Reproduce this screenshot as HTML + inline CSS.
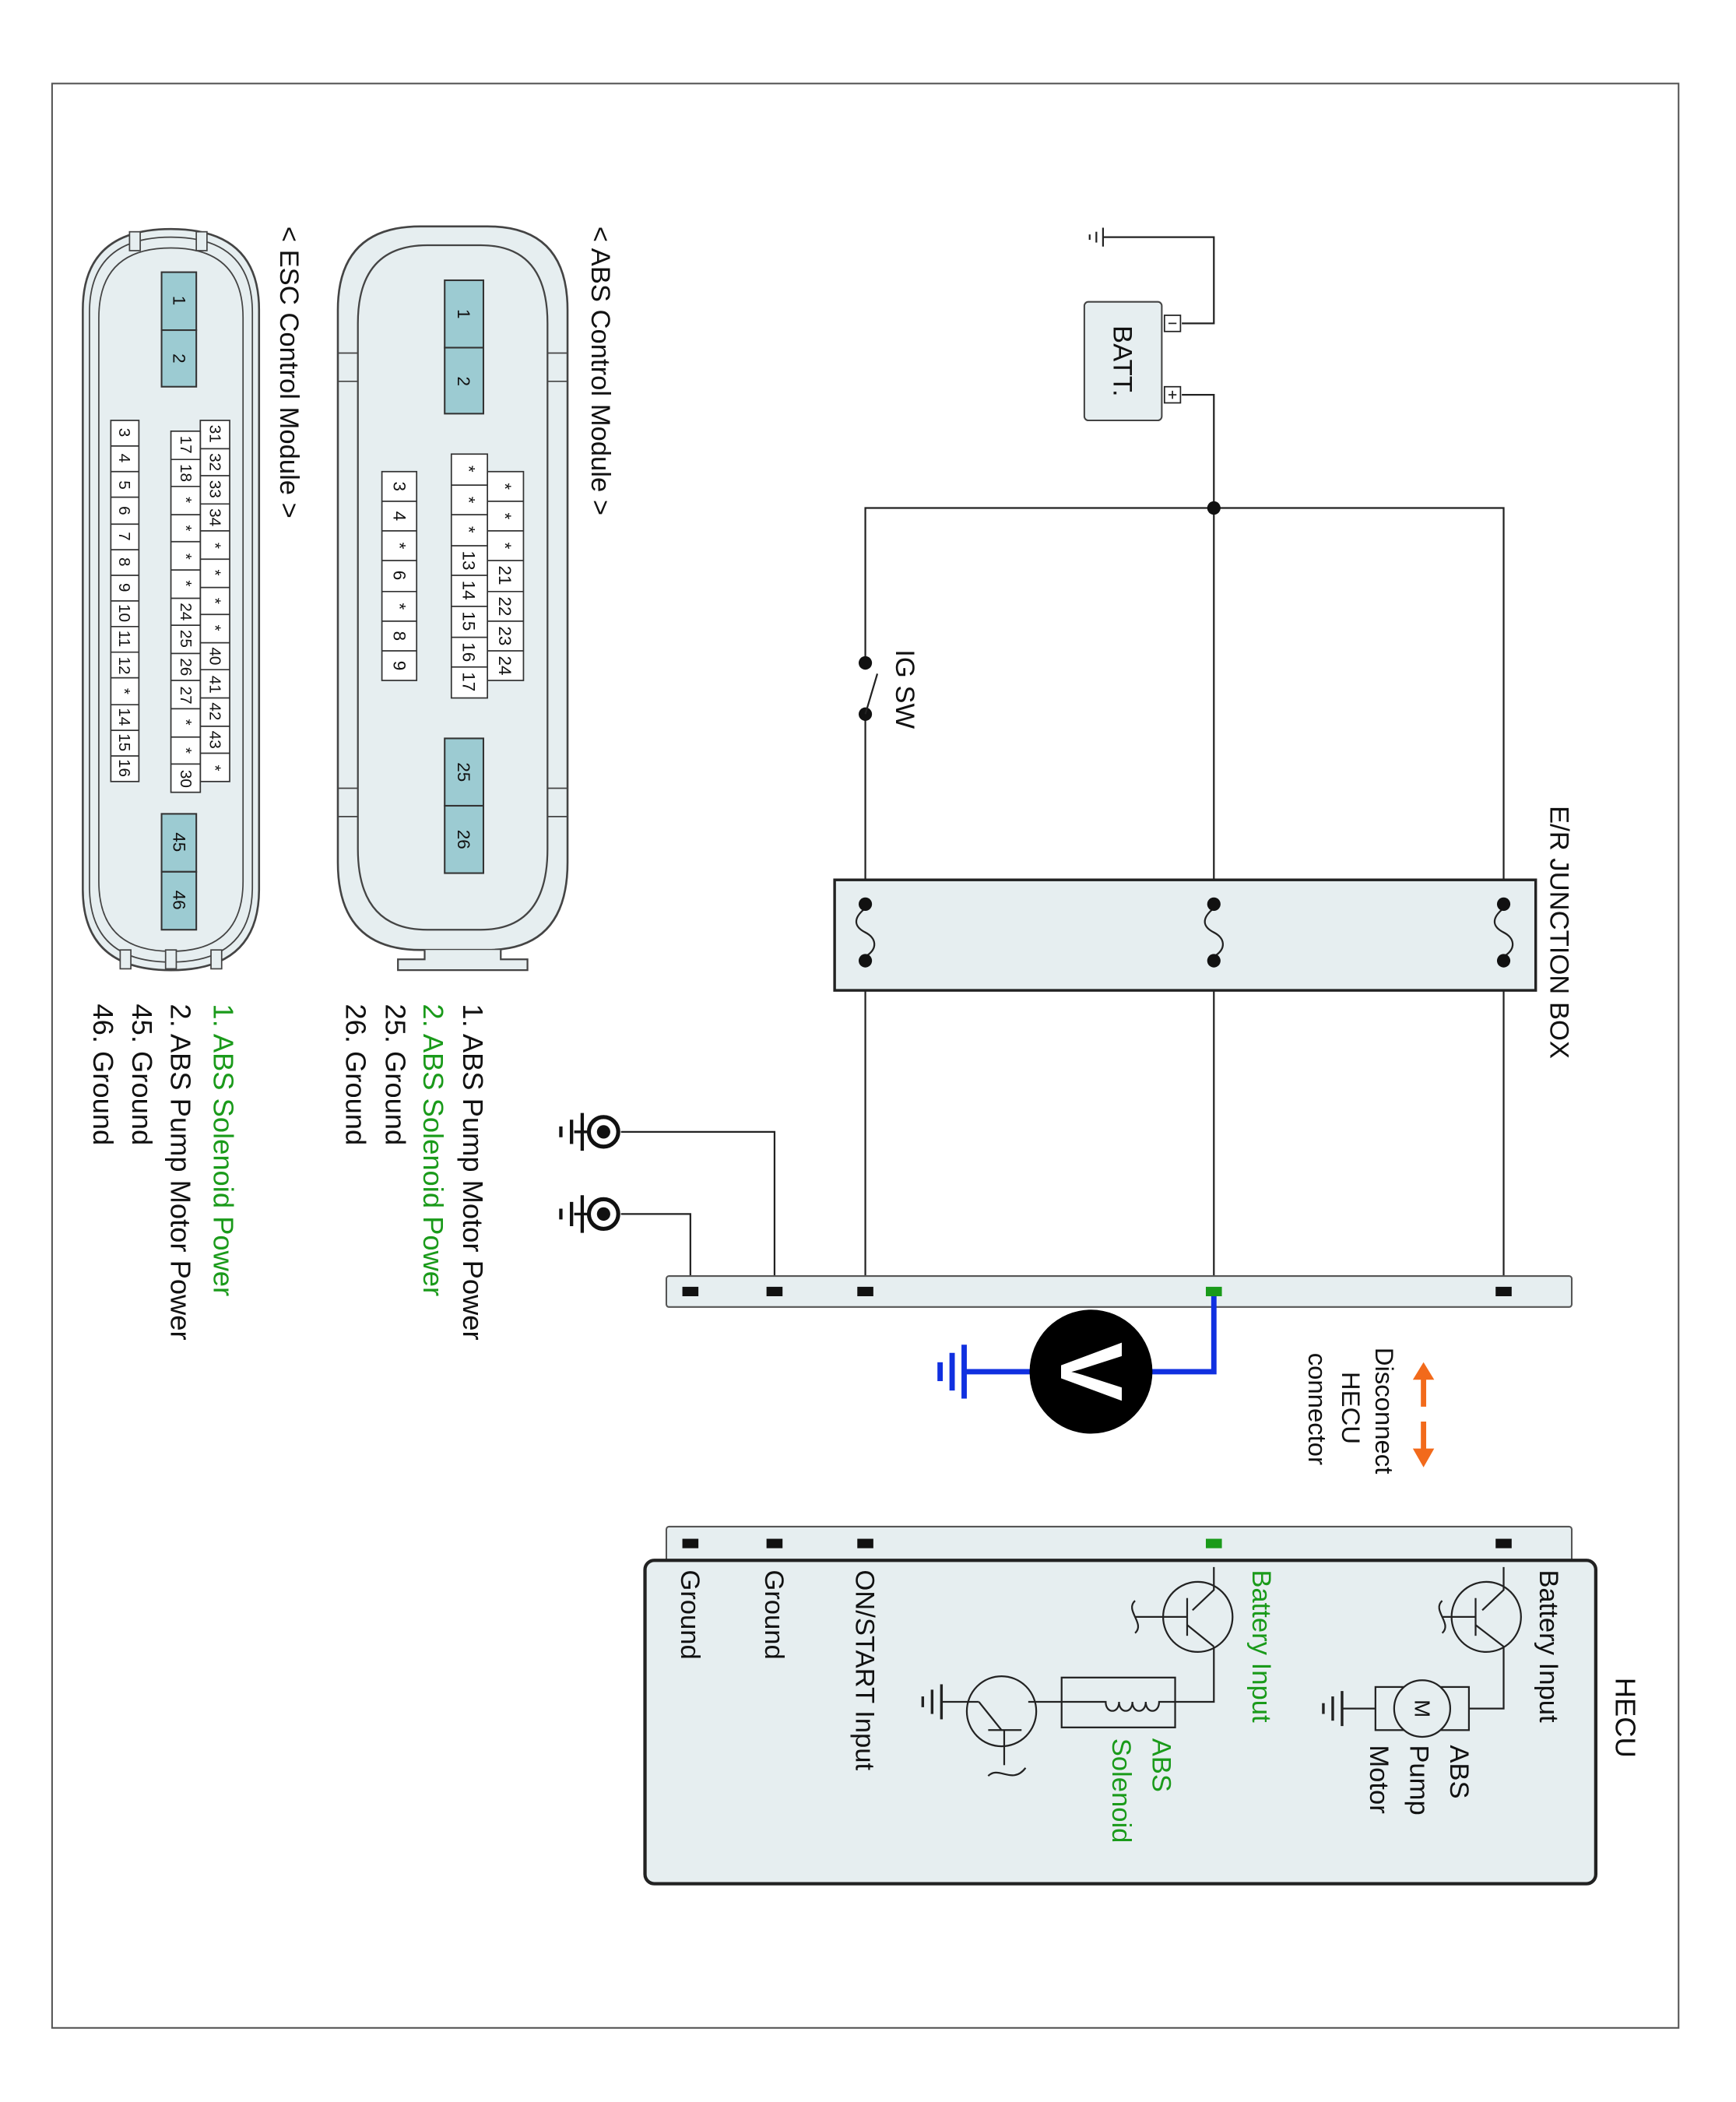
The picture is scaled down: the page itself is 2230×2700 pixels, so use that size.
<!DOCTYPE html>
<html><head><meta charset="utf-8"><style>
html,body{margin:0;padding:0;background:#fff}
svg{display:block}
text{font-family:"Liberation Sans",sans-serif}
</style></head><body>
<svg width="2230" height="2700" viewBox="0 0 1300 1560" preserveAspectRatio="none" xmlns="http://www.w3.org/2000/svg">
<rect x="0" y="0" width="1300" height="1560" fill="#fff"/>
<rect x="39" y="62" width="1218" height="1443" fill="none" stroke="#555" stroke-width="1.2"/>

<g stroke="#222" stroke-width="1.3" fill="none">
<polyline points="885,240 909,240 909,176 826,176"/>
<line x1="826" y1="169" x2="826" y2="183"/><line x1="821" y1="172" x2="821" y2="180"/><line x1="816" y1="174" x2="816" y2="178"/>
<polyline points="885,293 909,293 909,958"/>
<polyline points="648,958 648,377 1126,377 1126,958"/>
</g>
<rect x="812" y="224" width="58" height="88" rx="3" fill="#e6eef0" stroke="#444" stroke-width="1.2"/>
<text transform="translate(834,268) rotate(90)" text-anchor="middle" font-size="20" fill="#111">BATT.</text>
<rect x="872" y="234" width="12" height="12" fill="#fff" stroke="#222"/><line x1="875" y1="240" x2="881" y2="240" stroke="#222"/>
<rect x="872" y="287" width="12" height="12" fill="#fff" stroke="#222"/><line x1="875" y1="293" x2="881" y2="293" stroke="#222"/><line x1="878" y1="290" x2="878" y2="296" stroke="#222"/>
<circle cx="909" cy="377" r="5" fill="#111"/>

<rect x="644" y="493" width="8" height="36" fill="#fff"/>
<circle cx="648" cy="492" r="5" fill="#111"/><circle cx="648" cy="530" r="5" fill="#111"/>
<line x1="648" y1="530" x2="657" y2="500" stroke="#222" stroke-width="1.3"/>
<text transform="translate(671,482) rotate(90)" font-size="20" fill="#111">IG SW</text>

<rect x="625" y="653" width="525" height="82" fill="#e6eef0" stroke="#222" stroke-width="2"/>
<g stroke="#222" stroke-width="1.3" fill="none">
<path d="M648,674 C638,682 640,688 648,692 C656,696 658,704 648,710"/>
<path d="M909,674 C899,682 901,688 909,692 C917,696 919,704 909,710"/>
<path d="M1126,674 C1116,682 1118,688 1126,692 C1134,696 1136,704 1126,710"/>
</g>
<g fill="#111"><circle cx="648" cy="671" r="5"/><circle cx="648" cy="713" r="5"/><circle cx="909" cy="671" r="5"/><circle cx="909" cy="713" r="5"/><circle cx="1126" cy="671" r="5"/><circle cx="1126" cy="713" r="5"/></g>
<text transform="translate(1161,598) rotate(90)" font-size="20" fill="#111">E/R JUNCTION BOX</text>

<g stroke="#222" stroke-width="1.3" fill="none">
<polyline points="465,840 580,840 580,958"/>
<polyline points="465,901 517,901 517,958"/>
</g>
<g>
<circle cx="452" cy="840" r="11" fill="#fff" stroke="#111" stroke-width="3"/><circle cx="452" cy="840" r="5" fill="#111"/>
<line x1="441" y1="840" x2="430" y2="840" stroke="#111" stroke-width="2"/>
<line x1="436" y1="826" x2="436" y2="854" stroke="#111" stroke-width="2.5"/><line x1="428" y1="831" x2="428" y2="849" stroke="#111" stroke-width="2.5"/><line x1="420" y1="836" x2="420" y2="844" stroke="#111" stroke-width="2.5"/>
<circle cx="452" cy="901" r="11" fill="#fff" stroke="#111" stroke-width="3"/><circle cx="452" cy="901" r="5" fill="#111"/>
<line x1="441" y1="901" x2="430" y2="901" stroke="#111" stroke-width="2"/>
<line x1="436" y1="887" x2="436" y2="915" stroke="#111" stroke-width="2.5"/><line x1="428" y1="892" x2="428" y2="910" stroke="#111" stroke-width="2.5"/><line x1="420" y1="897" x2="420" y2="905" stroke="#111" stroke-width="2.5"/>
</g>

<rect x="499" y="947" width="678" height="23" rx="2" fill="#e6eef0" stroke="#555" stroke-width="1.2"/>
<g fill="#111"><rect x="511" y="955" width="12" height="7"/><rect x="574" y="955" width="12" height="7"/><rect x="642" y="955" width="12" height="7"/><rect x="1120" y="955" width="12" height="7"/></g>
<rect x="903" y="955" width="12" height="7" fill="#1a9a1a"/>

<polyline points="909,962 909,1018 860,1018" fill="none" stroke="#1030e0" stroke-width="4"/>
<line x1="774" y1="1018" x2="722" y2="1018" stroke="#1030e0" stroke-width="4"/>
<line x1="722" y1="998" x2="722" y2="1038" stroke="#1030e0" stroke-width="4"/><line x1="713" y1="1004" x2="713" y2="1032" stroke="#1030e0" stroke-width="4"/><line x1="704" y1="1011" x2="704" y2="1025" stroke="#1030e0" stroke-width="4"/>
<circle cx="817" cy="1018" r="46" fill="#000"/>
<text transform="translate(817,1018) rotate(90)" text-anchor="middle" dominant-baseline="central" font-size="66" font-weight="bold" fill="#fff">V</text>

<g fill="#f26a1b" stroke="#f26a1b">
<line x1="1066" y1="1022" x2="1066" y2="1044" stroke-width="4"/><polygon points="1058,1024 1074,1024 1066,1011" stroke="none"/>
<line x1="1066" y1="1055" x2="1066" y2="1077" stroke-width="4"/><polygon points="1058,1075 1074,1075 1066,1089" stroke="none"/>
</g>
<text transform="translate(1030,1000) rotate(90)" font-size="19" fill="#111"><tspan x="0" y="0">Disconnect</tspan><tspan x="18" y="25">HECU</tspan><tspan x="4" y="50">connector</tspan></text>

<rect x="499" y="1133" width="678" height="30" rx="2" fill="#e6eef0" stroke="#555" stroke-width="1.2"/>
<g fill="#111"><rect x="511" y="1142" width="12" height="7"/><rect x="574" y="1142" width="12" height="7"/><rect x="642" y="1142" width="12" height="7"/><rect x="1120" y="1142" width="12" height="7"/></g>
<rect x="903" y="1142" width="12" height="7" fill="#1a9a1a"/>
<rect x="483" y="1158" width="712" height="240" rx="7" fill="#e6eef0" stroke="#222" stroke-width="2.5"/>
<text transform="translate(1210,1245) rotate(90)" font-size="21" fill="#111">HECU</text>
<text transform="translate(1153,1165) rotate(90)" font-size="20" fill="#111">Battery Input</text>
<text transform="translate(938,1165) rotate(90)" font-size="20" fill="#1a9a1a">Battery Input</text>
<text transform="translate(641,1165) rotate(90)" font-size="20" fill="#111">ON/START Input</text>
<text transform="translate(573,1165) rotate(90)" font-size="20" fill="#111">Ground</text>
<text transform="translate(510,1165) rotate(90)" font-size="20" fill="#111">Ground</text>
<text transform="translate(1086,1295) rotate(90)" font-size="20" fill="#111">ABS</text>
<text transform="translate(1056,1295) rotate(90)" font-size="20" fill="#111">Pump</text>
<text transform="translate(1026,1295) rotate(90)" font-size="20" fill="#111">Motor</text>
<text transform="translate(863,1290) rotate(90)" font-size="20" fill="#1a9a1a">ABS</text>
<text transform="translate(833,1290) rotate(90)" font-size="20" fill="#1a9a1a">Solenoid</text>

<g stroke="#222" stroke-width="1.3" fill="none">
<polyline points="1126,1163 1126,1180 1110,1195"/>
<circle cx="1113" cy="1200" r="26"/>
<line x1="1105" y1="1186" x2="1105" y2="1214"/>
<line x1="1105" y1="1200" x2="1080" y2="1200"/>
<path d="M1080,1188 C1072,1195 1088,1205 1080,1212"/>
<line x1="1105" y1="1206" x2="1126" y2="1222"/>
<polyline points="1126,1222 1126,1268 1100,1268"/>
<rect x="1030" y="1252" width="70" height="32"/>
<line x1="1030" y1="1268" x2="1005" y2="1268"/>
<line x1="1005" y1="1255" x2="1005" y2="1281" stroke-width="2"/><line x1="998" y1="1259" x2="998" y2="1277" stroke-width="2"/><line x1="991" y1="1264" x2="991" y2="1272" stroke-width="2"/>
<polyline points="909,1163 909,1180 893,1195"/>
<circle cx="897" cy="1200" r="26"/>
<line x1="889" y1="1186" x2="889" y2="1214"/>
<line x1="889" y1="1200" x2="850" y2="1200"/>
<path d="M850,1188 C842,1195 858,1205 850,1212"/>
<line x1="889" y1="1206" x2="909" y2="1222"/>
<polyline points="909,1222 909,1263 880,1263"/>
<rect x="795" y="1245" width="85" height="37"/>
<path d="M880,1263 L868,1263 C868,1272 858,1272 858,1263 C858,1272 848,1272 848,1263 C848,1272 838,1272 838,1263 C838,1272 828,1272 828,1263 L795,1263"/>
<line x1="795" y1="1263" x2="770" y2="1263"/>
<circle cx="750" cy="1270" r="26"/>
<line x1="740" y1="1284" x2="765" y2="1284"/>
<line x1="752" y1="1284" x2="752" y2="1310"/>
<path d="M740,1318 C748,1310 758,1325 768,1312"/>
<line x1="750" y1="1284" x2="733" y2="1263"/>
<line x1="733" y1="1263" x2="705" y2="1263"/>
<line x1="705" y1="1250" x2="705" y2="1276" stroke-width="2"/><line x1="698" y1="1254" x2="698" y2="1272" stroke-width="2"/><line x1="691" y1="1259" x2="691" y2="1267" stroke-width="2"/>
</g>
<circle cx="1065" cy="1268" r="21" fill="#e6eef0" stroke="#222" stroke-width="1.3"/>
<text transform="translate(1065,1268) rotate(90)" text-anchor="middle" dominant-baseline="central" font-size="16" fill="#111">M</text>

<path d="M253,230 Q253,168 315,168 L365,168 Q425,168 425,230 L425,640 Q425,705 365,705 L315,705 Q253,705 253,640 Z" fill="#e6eef0" stroke="#444" stroke-width="1.5"/>
<path d="M268,240 Q268,182 320,182 L360,182 Q410,182 410,240 L410,630 Q410,690 360,690 L320,690 Q268,690 268,630 Z" fill="#e6eef0" stroke="#444" stroke-width="1.3"/>
<path d="M318,705 L318,712 L298,712 L298,720 L395,720 L395,712 L375,712 L375,705" fill="#e6eef0" stroke="#444" stroke-width="1.3"/>
<g stroke="#444" stroke-width="1"><line x1="253" y1="262" x2="268" y2="262"/><line x1="253" y1="283" x2="268" y2="283"/><line x1="410" y1="262" x2="425" y2="262"/><line x1="410" y1="283" x2="425" y2="283"/><line x1="253" y1="585" x2="268" y2="585"/><line x1="253" y1="606" x2="268" y2="606"/><line x1="410" y1="585" x2="425" y2="585"/><line x1="410" y1="606" x2="425" y2="606"/></g>
<g fill="#9ccbd2" stroke="#333" stroke-width="1.2">
<rect x="333" y="208" width="29" height="50"/><rect x="333" y="258" width="29" height="49"/>
<rect x="333" y="548" width="29" height="50"/><rect x="333" y="598" width="29" height="50"/>
</g>
<g font-size="13" fill="#111" text-anchor="middle" dominant-baseline="central">
<text transform="translate(347,233) rotate(90)">1</text><text transform="translate(347,283) rotate(90)">2</text>
<text transform="translate(347,573) rotate(90)">25</text><text transform="translate(347,623) rotate(90)">26</text>
</g>
<g fill="#fff" stroke="#333" stroke-width="1">
<rect x="365" y="350" width="27" height="155"/><rect x="338" y="337" width="27" height="181"/><rect x="286" y="350" width="26" height="155"/>
</g>
<g stroke="#333" stroke-width="1">
<line x1="365" y1="372" x2="392" y2="372"/><line x1="365" y1="394" x2="392" y2="394"/><line x1="365" y1="416" x2="392" y2="416"/><line x1="365" y1="439" x2="392" y2="439"/><line x1="365" y1="461" x2="392" y2="461"/><line x1="365" y1="483" x2="392" y2="483"/>
<line x1="338" y1="360" x2="365" y2="360"/><line x1="338" y1="382" x2="365" y2="382"/><line x1="338" y1="405" x2="365" y2="405"/><line x1="338" y1="427" x2="365" y2="427"/><line x1="338" y1="450" x2="365" y2="450"/><line x1="338" y1="473" x2="365" y2="473"/><line x1="338" y1="495" x2="365" y2="495"/>
<line x1="286" y1="372" x2="312" y2="372"/><line x1="286" y1="394" x2="312" y2="394"/><line x1="286" y1="416" x2="312" y2="416"/><line x1="286" y1="439" x2="312" y2="439"/><line x1="286" y1="461" x2="312" y2="461"/><line x1="286" y1="483" x2="312" y2="483"/>
</g>
<g font-size="13" fill="#111" text-anchor="middle" dominant-baseline="central">
<text transform="translate(378,361) rotate(90)">*</text><text transform="translate(378,383) rotate(90)">*</text><text transform="translate(378,405) rotate(90)">*</text><text transform="translate(378,427) rotate(90)">21</text><text transform="translate(378,450) rotate(90)">22</text><text transform="translate(378,472) rotate(90)">23</text><text transform="translate(378,494) rotate(90)">24</text>
<text transform="translate(351,348) rotate(90)">*</text><text transform="translate(351,371) rotate(90)">*</text><text transform="translate(351,393) rotate(90)">*</text><text transform="translate(351,416) rotate(90)">13</text><text transform="translate(351,438) rotate(90)">14</text><text transform="translate(351,461) rotate(90)">15</text><text transform="translate(351,484) rotate(90)">16</text><text transform="translate(351,506) rotate(90)">17</text>
<text transform="translate(299,361) rotate(90)">3</text><text transform="translate(299,383) rotate(90)">4</text><text transform="translate(299,405) rotate(90)">*</text><text transform="translate(299,427) rotate(90)">6</text><text transform="translate(299,450) rotate(90)">*</text><text transform="translate(299,472) rotate(90)">8</text><text transform="translate(299,494) rotate(90)">9</text>
</g>

<path d="M62,230 Q62,170 128,170 Q194,170 194,230 L194,660 Q194,720 128,720 Q62,720 62,660 Z" fill="#e6eef0" stroke="#444" stroke-width="1.5"/>
<path d="M67,232 Q67,176 128,176 Q189,176 189,232 L189,658 Q189,714 128,714 Q67,714 67,658 Z" fill="none" stroke="#444" stroke-width="1"/>
<path d="M74,236 Q74,184 128,184 Q182,184 182,236 L182,654 Q182,706 128,706 Q74,706 74,654 Z" fill="none" stroke="#444" stroke-width="1"/>
<g fill="#e6eef0" stroke="#444" stroke-width="1">
<rect x="97" y="172" width="8" height="14"/><rect x="147" y="172" width="8" height="14"/>
<rect x="90" y="705" width="8" height="14"/><rect x="124" y="705" width="8" height="14"/><rect x="158" y="705" width="8" height="14"/>
</g>
<g fill="#9ccbd2" stroke="#333" stroke-width="1.2">
<rect x="121" y="202" width="26" height="43"/><rect x="121" y="245" width="26" height="42"/>
<rect x="121" y="604" width="26" height="43"/><rect x="121" y="647" width="26" height="43"/>
</g>
<g font-size="13" fill="#111" text-anchor="middle" dominant-baseline="central">
<text transform="translate(134,223) rotate(90)">1</text><text transform="translate(134,266) rotate(90)">2</text>
<text transform="translate(134,625) rotate(90)">45</text><text transform="translate(134,668) rotate(90)">46</text>
</g>
<g fill="#fff" stroke="#333" stroke-width="1">
<rect x="150" y="312" width="22" height="268"/><rect x="128" y="320" width="22" height="268"/><rect x="83" y="312" width="21" height="268"/>
</g>
<g stroke="#333" stroke-width="1">
<line x1="150" y1="333" x2="172" y2="333"/><line x1="150" y1="353" x2="172" y2="353"/><line x1="150" y1="374" x2="172" y2="374"/><line x1="150" y1="394" x2="172" y2="394"/><line x1="150" y1="415" x2="172" y2="415"/><line x1="150" y1="436" x2="172" y2="436"/><line x1="150" y1="456" x2="172" y2="456"/><line x1="150" y1="477" x2="172" y2="477"/><line x1="150" y1="497" x2="172" y2="497"/><line x1="150" y1="518" x2="172" y2="518"/><line x1="150" y1="539" x2="172" y2="539"/><line x1="150" y1="559" x2="172" y2="559"/>
<line x1="128" y1="341" x2="150" y2="341"/><line x1="128" y1="361" x2="150" y2="361"/><line x1="128" y1="382" x2="150" y2="382"/><line x1="128" y1="402" x2="150" y2="402"/><line x1="128" y1="423" x2="150" y2="423"/><line x1="128" y1="444" x2="150" y2="444"/><line x1="128" y1="464" x2="150" y2="464"/><line x1="128" y1="485" x2="150" y2="485"/><line x1="128" y1="505" x2="150" y2="505"/><line x1="128" y1="526" x2="150" y2="526"/><line x1="128" y1="547" x2="150" y2="547"/><line x1="128" y1="567" x2="150" y2="567"/>
<line x1="83" y1="331" x2="104" y2="331"/><line x1="83" y1="350" x2="104" y2="350"/><line x1="83" y1="369" x2="104" y2="369"/><line x1="83" y1="389" x2="104" y2="389"/><line x1="83" y1="408" x2="104" y2="408"/><line x1="83" y1="427" x2="104" y2="427"/><line x1="83" y1="446" x2="104" y2="446"/><line x1="83" y1="465" x2="104" y2="465"/><line x1="83" y1="484" x2="104" y2="484"/><line x1="83" y1="503" x2="104" y2="503"/><line x1="83" y1="523" x2="104" y2="523"/><line x1="83" y1="542" x2="104" y2="542"/><line x1="83" y1="561" x2="104" y2="561"/>
</g>
<g font-size="12" fill="#111" text-anchor="middle" dominant-baseline="central">
<text transform="translate(161,322) rotate(90)">31</text><text transform="translate(161,343) rotate(90)">32</text><text transform="translate(161,363) rotate(90)">33</text><text transform="translate(161,384) rotate(90)">34</text><text transform="translate(161,405) rotate(90)">*</text><text transform="translate(161,425) rotate(90)">*</text><text transform="translate(161,446) rotate(90)">*</text><text transform="translate(161,466) rotate(90)">*</text><text transform="translate(161,487) rotate(90)">40</text><text transform="translate(161,508) rotate(90)">41</text><text transform="translate(161,528) rotate(90)">42</text><text transform="translate(161,549) rotate(90)">43</text><text transform="translate(161,570) rotate(90)">*</text>
<text transform="translate(139,330) rotate(90)">17</text><text transform="translate(139,351) rotate(90)">18</text><text transform="translate(139,371) rotate(90)">*</text><text transform="translate(139,392) rotate(90)">*</text><text transform="translate(139,413) rotate(90)">*</text><text transform="translate(139,433) rotate(90)">*</text><text transform="translate(139,454) rotate(90)">24</text><text transform="translate(139,474) rotate(90)">25</text><text transform="translate(139,495) rotate(90)">26</text><text transform="translate(139,516) rotate(90)">27</text><text transform="translate(139,536) rotate(90)">*</text><text transform="translate(139,557) rotate(90)">*</text><text transform="translate(139,578) rotate(90)">30</text>
<text transform="translate(93,321) rotate(90)">3</text><text transform="translate(93,340) rotate(90)">4</text><text transform="translate(93,360) rotate(90)">5</text><text transform="translate(93,379) rotate(90)">6</text><text transform="translate(93,398) rotate(90)">7</text><text transform="translate(93,417) rotate(90)">8</text><text transform="translate(93,436) rotate(90)">9</text><text transform="translate(93,455) rotate(90)">10</text><text transform="translate(93,474) rotate(90)">11</text><text transform="translate(93,494) rotate(90)">12</text><text transform="translate(93,513) rotate(90)">*</text><text transform="translate(93,532) rotate(90)">14</text><text transform="translate(93,551) rotate(90)">15</text><text transform="translate(93,570) rotate(90)">16</text>
</g>

<text transform="translate(443,168) rotate(90)" font-size="20" fill="#111">&lt; ABS Control Module &gt;</text>
<text transform="translate(210,168) rotate(90)" font-size="20" fill="#111">&lt; ESC Control Module &gt;</text>
<g font-size="21">
<text transform="translate(347,745) rotate(90)" fill="#111">1. ABS Pump Motor Power</text>
<text transform="translate(317,745) rotate(90)" fill="#1a9a1a">2. ABS Solenoid Power</text>
<text transform="translate(289,745) rotate(90)" fill="#111">25. Ground</text>
<text transform="translate(259,745) rotate(90)" fill="#111">26. Ground</text>
<text transform="translate(160,745) rotate(90)" fill="#1a9a1a">1. ABS Solenoid Power</text>
<text transform="translate(128,745) rotate(90)" fill="#111">2. ABS Pump Motor Power</text>
<text transform="translate(99,745) rotate(90)" fill="#111">45. Ground</text>
<text transform="translate(70,745) rotate(90)" fill="#111">46. Ground</text>
</g>
</svg>
</body></html>
